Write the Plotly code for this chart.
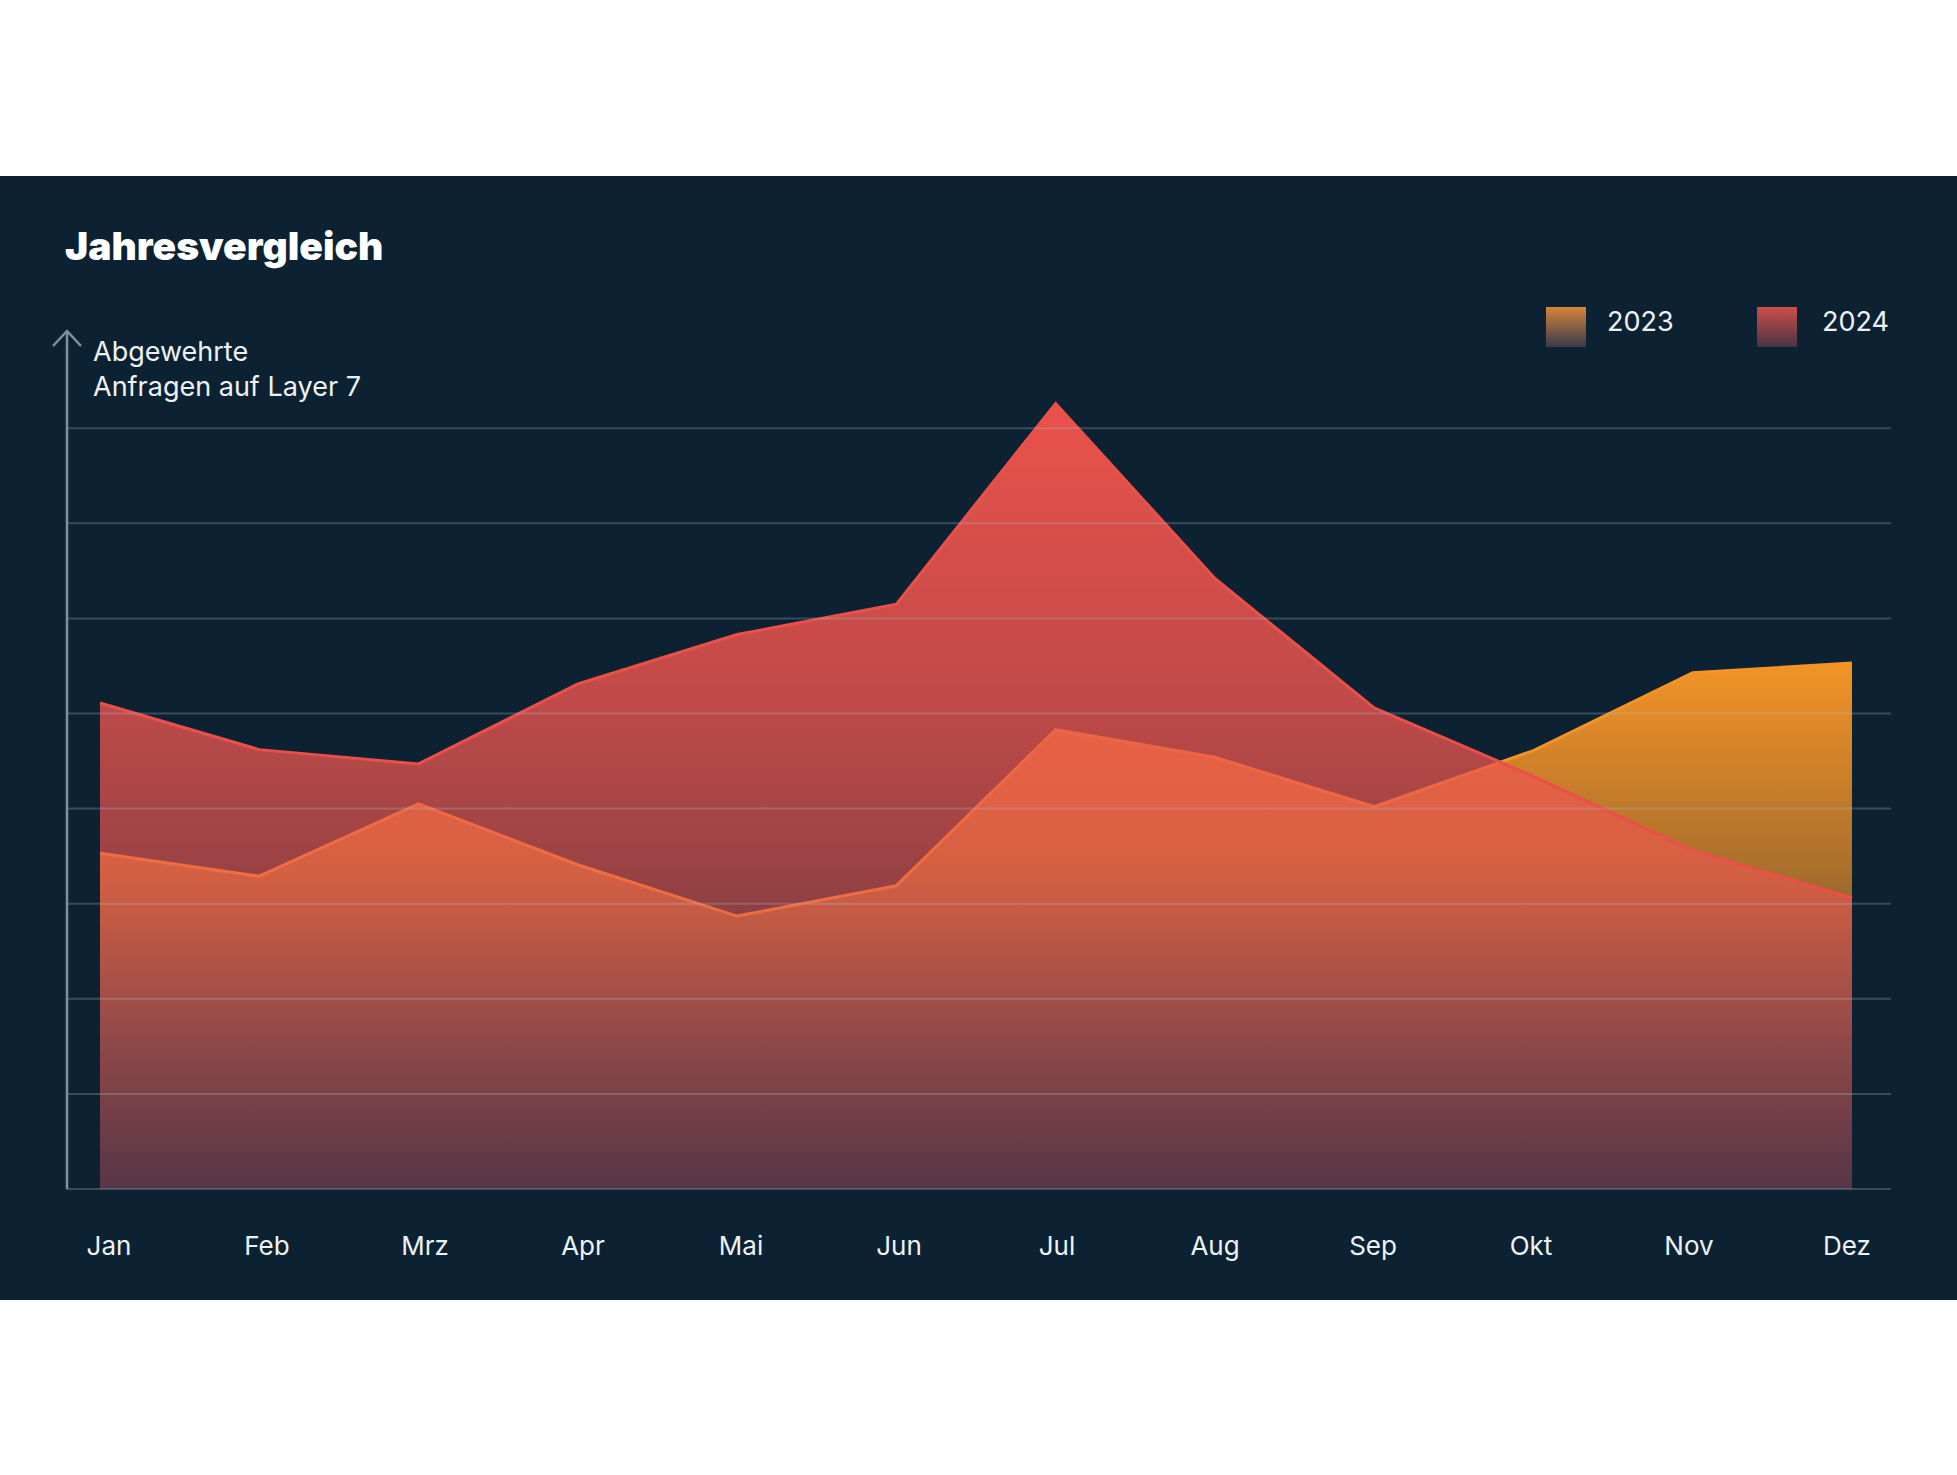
import base64
import plotly.graph_objects as go

# ---------------- data ----------------
months = ["Jan", "Feb", "Mrz", "Apr", "Mai", "Jun", "Jul", "Aug", "Sep", "Okt", "Nov", "Dez"]
values_2023 = [35.3, 32.9, 40.5, 34.1, 28.7, 31.9, 48.3, 45.4, 40.2, 46.1, 54.3, 55.3]
values_2024 = [51.1, 46.2, 44.7, 53.1, 58.3, 61.5, 82.6, 64.2, 50.6, 43.4, 35.6, 30.6]
grid_levels = [0, 10, 20, 30, 40, 50, 60, 70, 80]
series_names = ["2023", "2024"]

title_text = "Jahresvergleich"
ylabel_text = "Abgewehrte<br>Anfragen auf Layer 7"

# ---------------- layout geometry ----------------
W, H = 1957, 1475
ML, MR, MT, MB = 66, 66, 331, 276
PW, PH = W - ML - MR, H - MT - MB

def px_x(px):
    return (px - ML) / PW

def px_y(py):
    return (H - MB - py) / PH

BG = "#0c2232"
FONT = "Inter"
TXT = "#eef2f5"
AXIS_COL = "rgba(125,145,160,1)"
GRID_COL = "rgba(170,185,200,0.28)"

x_idx = list(range(len(months)))
# month labels sit on a slightly tighter, evenly spaced row than the data vertices
label_pos = [i * (158 / 159.27) + 9 / 159.27 for i in x_idx]

fig = go.Figure()

fig.add_trace(go.Scatter(
    x=x_idx, y=values_2023, name=series_names[0], mode="lines",
    line=dict(color="#f39328", width=3),
    fill="tozeroy",
    fillgradient=dict(
        type="vertical", start=0, stop=max(values_2023),
        colorscale=[[0, "rgba(130,80,100,0.20)"],
                    [0.6, "rgba(243,147,42,0.68)"],
                    [1, "rgba(243,147,38,1)"]]),
    hoverinfo="skip", showlegend=False))

fig.add_trace(go.Scatter(
    x=x_idx, y=values_2024, name=series_names[1], mode="lines",
    line=dict(color="#ea5048", width=3),
    fill="tozeroy",
    fillgradient=dict(
        type="vertical", start=0, stop=max(values_2024),
        colorscale=[[0, "rgba(180,72,88,0.36)"],
                    [0.4, "rgba(238,86,80,0.62)"],
                    [0.62, "rgba(236,84,78,0.80)"],
                    [1, "rgba(234,82,74,1)"]]),
    hoverinfo="skip", showlegend=False))

shapes = []
# dark panel
shapes.append(dict(type="rect", xref="paper", yref="paper",
                   x0=-0.1, x1=1.1, y0=px_y(1300), y1=px_y(176),
                   fillcolor=BG, line=dict(width=0), layer="below"))
# grid lines above the fills
for g in grid_levels:
    shapes.append(dict(type="line", xref="x domain", yref="y",
                       x0=0, x1=1, y0=g, y1=g,
                       line=dict(color=GRID_COL, width=2), layer="above"))
# vertical axis with arrow
shapes.append(dict(type="line", xref="paper", yref="paper",
                   x0=px_x(67), x1=px_x(67), y0=px_y(1189), y1=px_y(332),
                   line=dict(color=AXIS_COL, width=2.5), layer="above"))
shapes.append(dict(type="path", xref="paper", yref="paper",
                   path=f"M{px_x(53)},{px_y(346)} L{px_x(67)},{px_y(331)} L{px_x(81)},{px_y(346)}",
                   line=dict(color=AXIS_COL, width=2.5), layer="above"))

def grad_svg(top, bottom):
    svg = ("<svg xmlns='http://www.w3.org/2000/svg' width='40' height='40'>"
           "<defs><linearGradient id='g' x1='0' y1='0' x2='0' y2='1'>"
           f"<stop offset='0' stop-color='{top}'/><stop offset='1' stop-color='{bottom}'/>"
           "</linearGradient></defs><rect width='40' height='40' fill='url(#g)'/></svg>")
    return "data:image/svg+xml;base64," + base64.b64encode(svg.encode()).decode()

images = [
    dict(source=grad_svg("#d6843a", "#3a3a4a"), xref="paper", yref="paper",
         x=px_x(1546), y=px_y(307), sizex=40 / PW, sizey=40 / PH,
         xanchor="left", yanchor="top", sizing="stretch", layer="above"),
    dict(source=grad_svg("#cf4d48", "#4a3345"), xref="paper", yref="paper",
         x=px_x(1757), y=px_y(307), sizex=40 / PW, sizey=40 / PH,
         xanchor="left", yanchor="top", sizing="stretch", layer="above"),
]

annotations = [
    dict(text=title_text, xref="paper", yref="paper", x=px_x(63), y=px_y(246),
         xanchor="left", yanchor="middle", showarrow=False,
         font=dict(family=FONT, size=39, color="#ffffff", weight=900)),
    dict(text=ylabel_text, xref="paper", yref="paper", x=px_x(91), y=px_y(333),
         xanchor="left", yanchor="top", align="left", showarrow=False,
         font=dict(family=FONT, size=27, color=TXT)),
    dict(text=series_names[0], xref="paper", yref="paper", x=px_x(1605), y=px_y(321),
         xanchor="left", yanchor="middle", showarrow=False,
         font=dict(family=FONT, size=27, color=TXT)),
    dict(text=series_names[1], xref="paper", yref="paper", x=px_x(1820), y=px_y(321),
         xanchor="left", yanchor="middle", showarrow=False,
         font=dict(family=FONT, size=27, color=TXT)),
]

fig.update_layout(
    width=W, height=H, autosize=False,
    margin=dict(l=ML, r=MR, t=MT, b=MB, pad=0),
    paper_bgcolor="#ffffff", plot_bgcolor="rgba(0,0,0,0)",
    shapes=shapes, images=images, annotations=annotations,
    showlegend=False,
    xaxis=dict(range=[-0.2135, 11.245], showgrid=False, zeroline=False, showline=False,
               tickmode="array", tickvals=label_pos, ticktext=months, ticks="",
               ticklabelstandoff=29, tickfont=dict(family=FONT, size=26, color=TXT),
               fixedrange=True),
    yaxis=dict(range=[-1.05, 90.22], showgrid=False, zeroline=False, showline=False,
               showticklabels=False, fixedrange=True),
)

fig.write_html("out.html")
